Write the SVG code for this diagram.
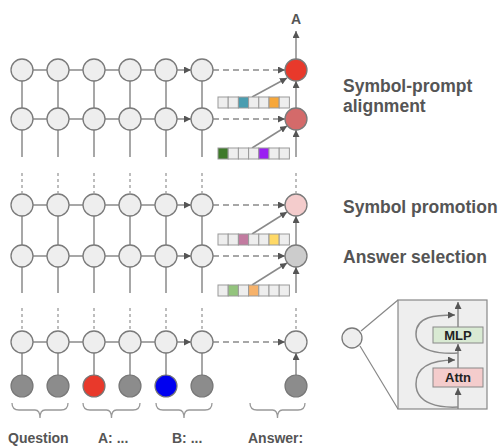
<svg xmlns="http://www.w3.org/2000/svg" width="503" height="446" viewBox="0 0 503 446">
<defs>
<marker id="ah" viewBox="0 0 10 10" refX="10" refY="5" markerWidth="7" markerHeight="7" markerUnits="userSpaceOnUse" orient="auto"><path d="M0,0 L10,5 L0,10 z" fill="#555"/></marker>
<style>
.n{fill:#eeeeee;stroke:#7a7a7a;stroke-width:1.3}
.tok{fill:#8c8c8c;stroke:#777;stroke-width:1.2}
.a{stroke:#8a8a8a;stroke-width:1.5;fill:none;marker-end:url(#ah)}
.d{stroke:#8a8a8a;stroke-width:1.5;fill:none;stroke-dasharray:6 4;marker-end:url(#ah)}
.dv{stroke:#9a9a9a;stroke-width:1.3;fill:none;stroke-dasharray:3 3}
.cell{fill:#eeeeee;stroke:#999;stroke-width:1}
.br{stroke:#999;stroke-width:1.3;fill:none}
.lab{font-family:"Liberation Sans",Arial,sans-serif;font-weight:bold;fill:#555}
.box{font-family:"Liberation Sans",Arial,sans-serif;font-weight:bold;fill:#222;font-size:13px}
</style>
</defs>

<g id="connectors">
  <!-- top group horizontal arrows row1 -->
  <path class="a" d="M33,70H47M69,70H83M105,70H119M141,70H155M177,70H191"/>
  <path class="a" d="M33,119H47M69,119H83M105,119H119M141,119H155M177,119H191"/>
  <path class="a" d="M22,108V81M58,108V81M94,108V81M130,108V81M166,108V81M202,108V81M296,108V81"/>
  <path class="a" d="M22,157V130M58,157V130M94,157V130M130,157V130M166,157V130M202,157V130M296,157V130"/>
  <path class="a" d="M296,59V31"/>
  <path class="d" d="M213,70H285"/>
  <path class="d" d="M213,119H285"/>
  <path class="a" d="M252,97L287,78"/>
  <path class="a" d="M252,148L287,126"/>
  <!-- middle group -->
  <path class="dv" d="M22,173V193M58,173V193M94,173V193M130,173V193M166,173V193M202,173V193M296,173V193"/>
  <path class="a" d="M33,205H47M69,205H83M105,205H119M141,205H155M177,205H191"/>
  <path class="a" d="M33,256H47M69,256H83M105,256H119M141,256H155M177,256H191"/>
  <path class="a" d="M22,245V216M58,245V216M94,245V216M130,245V216M166,245V216M202,245V216M296,245V216"/>
  <path class="a" d="M22,293V267M58,293V267M94,293V267M130,293V267M166,293V267M202,293V267M296,293V267"/>
  <path class="d" d="M213,205H285"/>
  <path class="d" d="M213,256H285"/>
  <path class="a" d="M252,234L287,212"/>
  <path class="a" d="M252,285L287,263"/>
  <!-- bottom group -->
  <path class="dv" d="M22,308V330M58,308V330M94,308V330M130,308V330M166,308V330M202,308V330M296,308V330"/>
  <path class="a" d="M33,342H47M69,342H83M105,342H119M141,342H155M177,342H191"/>
  <path class="d" d="M213,342H285"/>
  <path class="a" d="M22,375V353M58,375V353M94,375V353M130,375V353M166,375V353M202,375V353M296,375V353"/>
</g>

<g id="row1">
  <circle class="n" cx="22" cy="70" r="11"/><circle class="n" cx="58" cy="70" r="11"/><circle class="n" cx="94" cy="70" r="11"/>
  <circle class="n" cx="130" cy="70" r="11"/><circle class="n" cx="166" cy="70" r="11"/><circle class="n" cx="202" cy="70" r="11"/>
</g>
<g id="row2">
  <circle class="n" cx="22" cy="119" r="11"/><circle class="n" cx="58" cy="119" r="11"/><circle class="n" cx="94" cy="119" r="11"/>
  <circle class="n" cx="130" cy="119" r="11"/><circle class="n" cx="166" cy="119" r="11"/><circle class="n" cx="202" cy="119" r="11"/>
</g>
<g id="row3">
  <circle class="n" cx="22" cy="205" r="11"/><circle class="n" cx="58" cy="205" r="11"/><circle class="n" cx="94" cy="205" r="11"/>
  <circle class="n" cx="130" cy="205" r="11"/><circle class="n" cx="166" cy="205" r="11"/><circle class="n" cx="202" cy="205" r="11"/>
</g>
<g id="row4">
  <circle class="n" cx="22" cy="256" r="11"/><circle class="n" cx="58" cy="256" r="11"/><circle class="n" cx="94" cy="256" r="11"/>
  <circle class="n" cx="130" cy="256" r="11"/><circle class="n" cx="166" cy="256" r="11"/><circle class="n" cx="202" cy="256" r="11"/>
</g>
<g id="row5">
  <circle class="n" cx="22" cy="342" r="11"/><circle class="n" cx="58" cy="342" r="11"/><circle class="n" cx="94" cy="342" r="11"/>
  <circle class="n" cx="130" cy="342" r="11"/><circle class="n" cx="166" cy="342" r="11"/><circle class="n" cx="202" cy="342" r="11"/>
</g>
<g id="tokens">
  <circle class="tok" cx="22" cy="386" r="11"/><circle class="tok" cx="58" cy="386" r="11"/>
  <circle class="tok" cx="94" cy="386" r="11" style="fill:#e8392b"/><circle class="tok" cx="130" cy="386" r="11"/>
  <circle class="tok" cx="166" cy="386" r="11" style="fill:#0000f0"/><circle class="tok" cx="202" cy="386" r="11"/>
  <circle class="tok" cx="296" cy="386" r="11"/>
</g>
<g id="answer-column">
  <circle class="n" cx="296" cy="70" r="11" style="fill:#e8392b"/>
  <circle class="n" cx="296" cy="119" r="11" style="fill:#d46a6a"/>
  <circle class="n" cx="296" cy="205" r="11" style="fill:#f4cccc"/>
  <circle class="n" cx="296" cy="256" r="11" style="fill:#cccccc"/>
  <circle class="n" cx="296" cy="342" r="11"/>
  <text class="lab" x="296" y="24" font-size="14" text-anchor="middle">A</text>
</g>

<g id="strip1">
  <rect class="cell" x="218" y="97" width="10.2" height="11"/><rect class="cell" x="228.2" y="97" width="10.2" height="11"/>
  <rect class="cell" x="238.4" y="97" width="10.2" height="11" style="fill:#4a9db0"/><rect class="cell" x="248.6" y="97" width="10.2" height="11"/>
  <rect class="cell" x="258.8" y="97" width="10.2" height="11"/><rect class="cell" x="269" y="97" width="10.2" height="11" style="fill:#f6a73a"/>
  <rect class="cell" x="279.2" y="97" width="10.2" height="11"/>
</g>
<g id="strip2">
  <rect class="cell" x="218" y="148" width="10.2" height="11" style="fill:#3e7a2a"/><rect class="cell" x="228.2" y="148" width="10.2" height="11"/>
  <rect class="cell" x="238.4" y="148" width="10.2" height="11"/><rect class="cell" x="248.6" y="148" width="10.2" height="11"/>
  <rect class="cell" x="258.8" y="148" width="10.2" height="11" style="fill:#9a1ff2"/><rect class="cell" x="269" y="148" width="10.2" height="11"/>
  <rect class="cell" x="279.2" y="148" width="10.2" height="11"/>
</g>
<g id="strip3">
  <rect class="cell" x="218" y="234" width="10.2" height="11"/><rect class="cell" x="228.2" y="234" width="10.2" height="11"/>
  <rect class="cell" x="238.4" y="234" width="10.2" height="11" style="fill:#c27ba0"/><rect class="cell" x="248.6" y="234" width="10.2" height="11"/>
  <rect class="cell" x="258.8" y="234" width="10.2" height="11"/><rect class="cell" x="269" y="234" width="10.2" height="11" style="fill:#ffd966"/>
  <rect class="cell" x="279.2" y="234" width="10.2" height="11"/>
</g>
<g id="strip4">
  <rect class="cell" x="218" y="285" width="10.2" height="11"/><rect class="cell" x="228.2" y="285" width="10.2" height="11" style="fill:#93c47d"/>
  <rect class="cell" x="238.4" y="285" width="10.2" height="11"/><rect class="cell" x="248.6" y="285" width="10.2" height="11" style="fill:#f6b26b"/>
  <rect class="cell" x="258.8" y="285" width="10.2" height="11"/><rect class="cell" x="269" y="285" width="10.2" height="11"/>
  <rect class="cell" x="279.2" y="285" width="10.2" height="11"/>
</g>

<g id="braces">
  <path class="br" d="M12,403q0,7 7,7H35q5,0 5,8q0,-8 5,-8H61q7,0 7,-7"/>
  <path class="br" d="M83,403q0,7 7,7H106.5q5,0 5,8q0,-8 5,-8H133q7,0 7,-7"/>
  <path class="br" d="M156,403q0,7 7,7H179q5,0 5,8q0,-8 5,-8H205q7,0 7,-7"/>
  <path class="br" d="M250,403q0,7 7,7H272.5q5,0 5,8q0,-8 5,-8H298q7,0 7,-7"/>
</g>
<g id="token-labels">
  <text class="lab" x="8" y="443" font-size="14">Question</text>
  <text class="lab" x="98" y="443" font-size="14">A: ...</text>
  <text class="lab" x="172" y="443" font-size="14">B: ...</text>
  <text class="lab" x="248" y="443" font-size="14">Answer:</text>
</g>

<g id="stage-labels">
  <text class="lab" x="343" y="92" font-size="17.5">Symbol-prompt</text>
  <text class="lab" x="343" y="112" font-size="17.5">alignment</text>
  <text class="lab" x="343" y="213" font-size="17.5">Symbol promotion</text>
  <text class="lab" x="343" y="263" font-size="17.5">Answer selection</text>
</g>

<g id="inset">
  <path d="M361,331L398,300M360,346L398,409" stroke="#888" stroke-width="1.2" fill="none"/>
  <circle class="n" cx="352" cy="338" r="10"/>
  <rect x="398" y="300" width="89" height="109" fill="#eeeeee" stroke="#888" stroke-width="1.2"/>
  <path class="a" d="M458,409V388"/>
  <path class="a" d="M458,368V344"/>
  <path class="a" d="M458,327V302"/>
  <path class="a" d="M458,407C440,408 416,404 416,384C416,364 436,360 455,360"/>
  <path class="a" d="M458,353C440,354 416,352 416,334C416,316 436,315 455,315"/>
  <rect x="433" y="327" width="50" height="16" fill="#d9ead3" stroke="#888" stroke-width="1"/>
  <text class="box" x="458" y="340" text-anchor="middle">MLP</text>
  <rect x="433" y="368" width="50" height="19" fill="#f4cccc" stroke="#888" stroke-width="1"/>
  <text class="box" x="458" y="382" text-anchor="middle">Attn</text>
</g>
</svg>
